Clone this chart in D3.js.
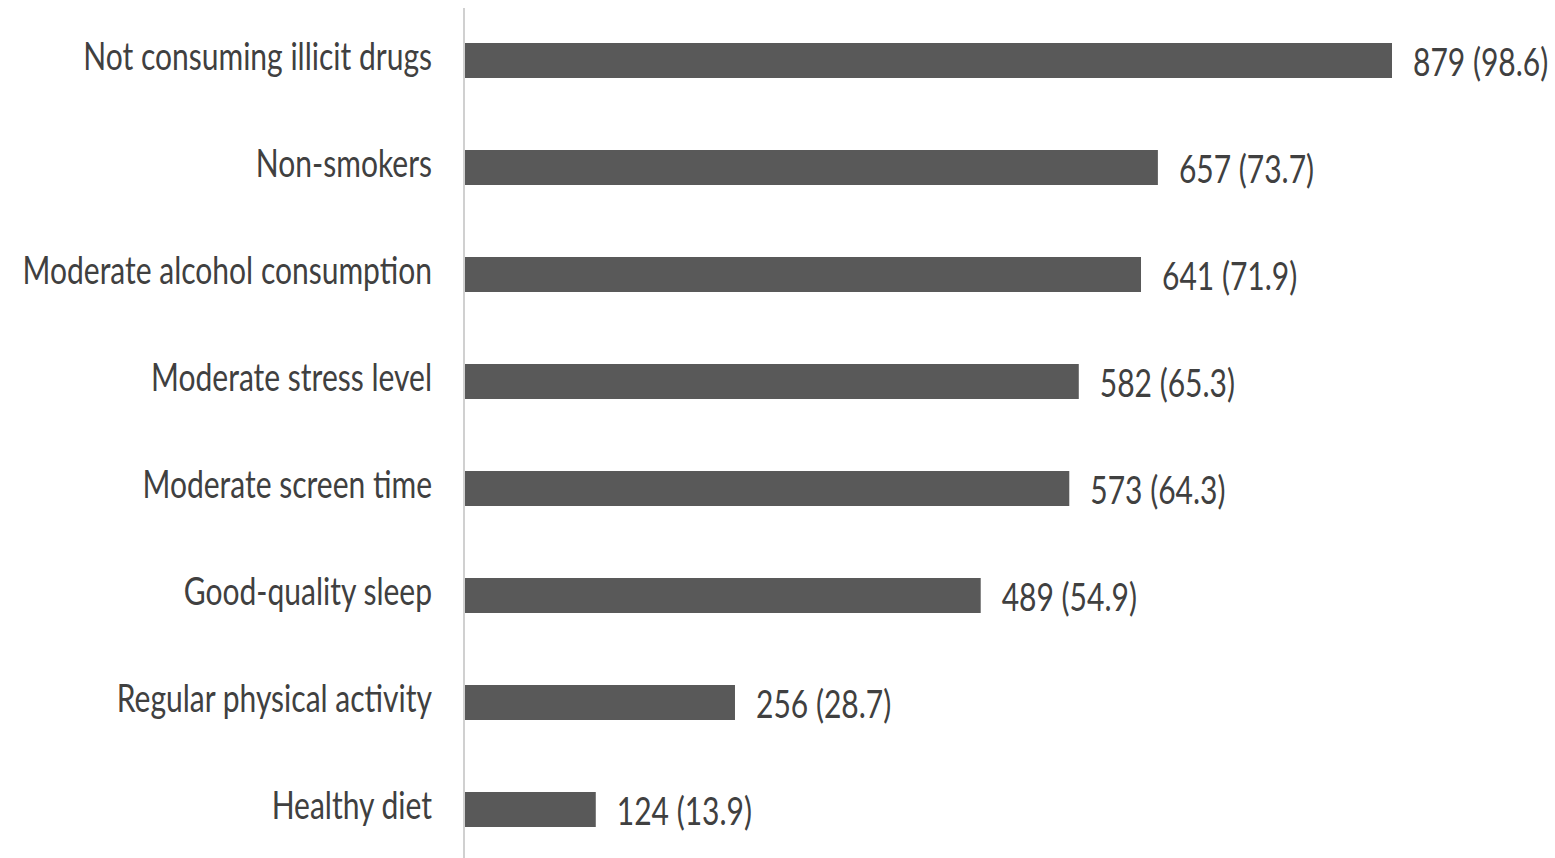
<!DOCTYPE html>
<html lang="en">
<head>
    <style>
        body { margin: 0; background: #fff; }
        svg { display: block; }
        .lbl { font-family: Lato, 'Open Sans', sans-serif; fill: #404040; }
    </style>
</head>
<body>
    <div class='chart'></div>
    <script src="https://cdn.jsdelivr.net/npm/d3@7"></script>
    <script>
        // data
        const categories = ['Not consuming illicit drugs', 'Non-smokers', 'Moderate alcohol consumption',
            'Moderate stress level', 'Moderate screen time', 'Good-quality sleep',
            'Regular physical activity', 'Healthy diet'];
        const counts = [879, 657, 641, 582, 573, 489, 256, 124];
        const percents = [98.6, 73.7, 71.9, 65.3, 64.3, 54.9, 28.7, 13.9];

        const width = 1555, height = 858;
        const axisX = 465;
        const sx = 0.79; // text is squeezed sideways in the original

        const svg = d3.select('.chart').append('svg')
            .attr('width', width)
            .attr('height', height);

        const x = d3.scaleLinear().domain([0, 879]).range([axisX, 1392]);
        const y = d3.scaleBand().domain(categories).range([7, 863])
            .paddingInner(0.673).paddingOuter(0.3365);

        // bars
        svg.selectAll('rect.bar')
            .data(categories)
            .enter()
            .append('rect')
            .attr('class', 'bar')
            .attr('x', x(0))
            .attr('y', d => y(d))
            .attr('width', (d, i) => x(counts[i]) - x(0))
            .attr('height', y.bandwidth())
            .attr('fill', '#595959');

        // category axis line
        svg.append('line')
            .attr('x1', axisX - 1).attr('x2', axisX - 1)
            .attr('y1', 8).attr('y2', height)
            .attr('stroke', '#d0d0d0')
            .attr('stroke-width', 2);

        // category labels
        svg.selectAll('text.cat')
            .data(categories)
            .enter()
            .append('text')
            .attr('class', 'lbl cat')
            .attr('text-anchor', 'end')
            .attr('dominant-baseline', 'central')
            .attr('transform', d => `translate(432,${y(d) + y.bandwidth() / 2 - 5}) scale(${sx},1)`)
            .style('font-size', '38px')
            .text(d => d);

        // value labels
        svg.selectAll('text.val')
            .data(categories)
            .enter()
            .append('text')
            .attr('class', 'lbl val')
            .attr('dominant-baseline', 'central')
            .attr('transform', (d, i) => `translate(${x(counts[i]) + 21},${y(d) + y.bandwidth() / 2 + 1}) scale(${sx},1)`)
            .style('font-size', '38px')
            .text((d, i) => `${counts[i]} (${percents[i].toFixed(1)})`);
    </script>
</body>
</html>
